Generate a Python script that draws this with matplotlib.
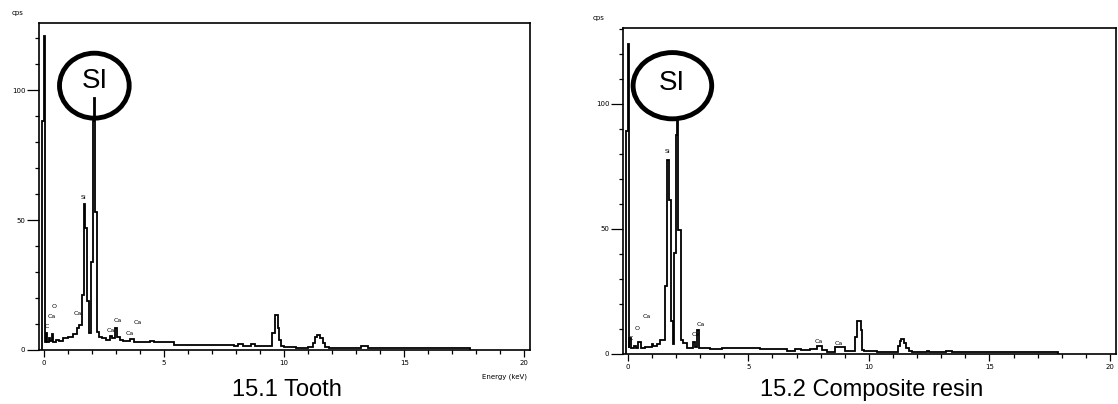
import matplotlib
matplotlib.use("Agg")
import matplotlib.pyplot as plt
from matplotlib.patches import Ellipse
from matplotlib.ticker import MultipleLocator

# EDS spectra as steps: channel-group edges (keV) and counts (cps)
tooth_edges = [-0.06, -0.01, 0.03, 0.08, 0.12, 0.2, 0.26, 0.32, 0.38, 0.5, 0.62,
               0.8, 1.0, 1.2, 1.36, 1.47, 1.57, 1.66, 1.71, 1.79, 1.88, 1.95,
               2.03, 2.08, 2.12, 2.21, 2.28, 2.4, 2.6, 2.75, 2.85, 2.95, 3.05,
               3.15, 3.3, 3.6, 3.75, 4.0, 4.4, 4.6, 5.0, 5.4, 6.0, 6.8, 7.3,
               7.9, 8.1, 8.3, 8.6, 8.8, 9.15, 9.5, 9.6, 9.74, 9.8, 9.86, 10.0,
               10.5, 11.0, 11.2, 11.3, 11.38, 11.5, 11.6, 11.72, 11.85, 13.2,
               13.5, 17.0, 17.2, 17.5, 17.6, 17.75]
tooth_cps = [88, 121, 3.0, 6.5, 3.0, 4.5, 3.5, 6.0, 3.2, 4.0, 3.5,
             4.5, 5.0, 6.0, 8.5, 9.5, 21, 56, 47, 19, 6.5, 34,
             88, 97, 53, 7, 5, 4.5, 4, 5.5, 4.5, 8.3, 5,
             4, 3.5, 4.2, 3.2, 3.0, 3.3, 2.9, 3.1, 2.0, 1.8, 2.0, 1.8,
             1.7, 2.3, 1.7, 2.3, 1.7, 1.5, 6.4, 13.5, 8.3, 4.0, 1.5, 1.0,
             0.7, 1.0, 2.6, 5.1, 5.8, 4.5, 2.6, 1.1, 0.6, 1.5,
             0.6, 0.9, 0.6, 0.9, 0.6]

resin_edges = [-0.08, -0.01, 0.03, 0.05, 0.14, 0.25, 0.35, 0.44, 0.53, 0.7, 0.99,
               1.05, 1.2, 1.33, 1.54, 1.64, 1.71, 1.78, 1.86, 1.91, 2.0, 2.06,
               2.1, 2.19, 2.28, 2.44, 2.7, 2.78, 2.88, 2.96, 3.4, 3.9, 4.5,
               5.5, 6.6, 6.93, 7.2, 7.55, 7.83, 8.04, 8.25, 8.6, 9.0, 9.42,
               9.52, 9.67, 9.72, 9.8, 10.35, 11.2, 11.27, 11.34, 11.45, 11.55,
               11.65, 11.8, 12.4, 12.5, 13.2, 13.43, 17.35, 17.45, 17.75, 17.85]
resin_cps = [89, 124, 2.5, 6.3, 2.5, 3.0, 2.3, 4.9, 2.5, 2.8, 3.8,
             3.2, 3.8, 5.5, 27, 77.6, 61.6, 13, 4, 40.3, 87.6, 93.6,
             49.6, 5.5, 4.2, 2.3, 4.9, 2.8, 9.6, 2.5, 1.8, 2.5, 2.3,
             1.9, 1.2, 1.9, 1.6, 1.9, 3.2, 1.6, 0.9, 2.7, 1.3, 6.7,
             13.3, 9.6, 1.6, 1.2, 0.6, 3.1, 5.2, 5.9, 4.5, 2.3,
             1.2, 0.8, 1.3, 0.8, 1.3, 0.6, 0.9, 0.6, 0.9]

# peak labels: text, energy (keV), cps
tooth_labels = [("Si", 1.64, 58.5), ("O", 0.43, 16.7), ("Ca", 0.31, 12.8),
                ("C", 0.14, 9.2), ("Ca", 1.43, 14.2), ("Ca", 3.07, 11.5),
                ("Ca", 2.78, 7.4), ("Ca", 3.89, 10.4), ("Ca", 3.58, 6.2)]
resin_labels = [("Si", 1.64, 81), ("Ca", 0.80, 14.9), ("O", 0.39, 10.3),
                ("C", 0.12, 6.3), ("Ca", 3.02, 11.9), ("Ca", 2.81, 7.6),
                ("Ca", 7.9, 4.9), ("Ca", 8.77, 4.3)]

x_ticks = [0, 5, 10, 15, 20]
y_ticks = [0, 50, 100]

W, H = 1118, 404
fig = plt.figure(figsize=(W / 100, H / 100), dpi=100)


def spectrum(rect, edges, cps, labels, ytop, circle):
    ax = fig.add_axes(rect)
    ax.stairs(cps, edges, color="black", lw=1.3, baseline=0)
    ax.set_xlim(-0.22, 20.25)
    ax.set_ylim(0, ytop)
    ax.set_xticks(x_ticks)
    ax.set_yticks(y_ticks)
    ax.xaxis.set_minor_locator(MultipleLocator(1))
    ax.yaxis.set_minor_locator(MultipleLocator(10))
    ax.tick_params(which="major", axis="y", length=8.5, width=0.9, labelsize=5, pad=1)
    ax.tick_params(which="major", axis="x", length=5, width=0.9, labelsize=5, pad=2)
    ax.tick_params(which="minor", length=3, width=0.9)
    for s in ax.spines.values():
        s.set_linewidth(1.2)
    for txt, e, c in labels:
        ax.text(e, c, txt, fontsize=4.5, ha="center", va="center")
    # circled "SI" callout over the main peak
    (cx, cy), w, h, tx, ty = circle
    ax.add_patch(Ellipse((cx, cy), w, h, fill=False, lw=3.5, ec="black", clip_on=False))
    ax.text(tx, ty, "SI", fontsize=20, ha="center", va="center", family="Liberation Sans")
    return ax


ax1 = spectrum([38.6 / W, 1 - 350 / H, (530.4 - 38.6) / W, 326.7 / H],
               tooth_edges, tooth_cps, tooth_labels, 125.7,
               ((2.1, 101.7), 2.9, 25, 2.12, 103.5))
ax2 = spectrum([622.5 / W, 1 - 354 / H, (1116 - 622.5) / W, 326.3 / H],
               resin_edges, resin_cps, resin_labels, 130.5,
               ((1.85, 107.3), 3.26, 26.5, 1.81, 108.3))

fig.text(18 / W, 1 - 13 / H, "cps", fontsize=5, ha="center", va="center")
fig.text(599 / W, 1 - 18 / H, "cps", fontsize=5, ha="center", va="center")
fig.text(527 / W, 1 - 377 / H, "Energy (keV)", fontsize=5, ha="right", va="center")

fig.text(287 / W, 1 - 390 / H, "15.1 Tooth", fontsize=17, ha="center", va="center",
         family="Liberation Sans")
fig.text(872 / W, 1 - 390 / H, "15.2 Composite resin", fontsize=17, ha="center",
         va="center", family="Liberation Sans")

fig.savefig("out.png", dpi=100)
